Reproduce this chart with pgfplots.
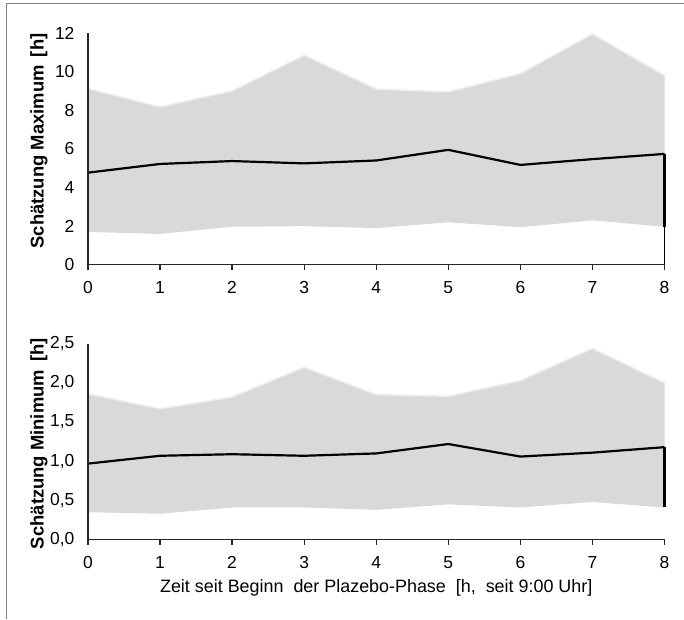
\documentclass[border=0pt]{standalone}
\usepackage{fontspec}
\setmainfont{Liberation Sans}
\usepackage{pgfplots}
\usepackage{pgfplotstable}
\pgfplotsset{compat=1.18}
\usepgfplotslibrary{fillbetween}

\definecolor{bandgray}{HTML}{D9D9D9}
\definecolor{bandedge}{HTML}{EEEEEE}
\definecolor{framegray}{HTML}{808080}

% x  lower  mean  upper
\pgfplotstableread{
x lo mean hi
0 1.70 4.77 9.12
1 1.60 5.22 8.17
2 1.97 5.37 9.00
3 2.00 5.25 10.85
4 1.90 5.40 9.10
5 2.20 5.95 8.95
6 1.95 5.17 9.90
7 2.30 5.47 11.95
8 1.97 5.74 9.80
}\maxdata

\pgfplotstableread{
x lo mean hi
0 0.35 0.97 1.86
1 0.33 1.07 1.67
2 0.41 1.09 1.82
3 0.41 1.07 2.20
4 0.38 1.10 1.85
5 0.45 1.22 1.83
6 0.41 1.06 2.03
7 0.48 1.11 2.44
8 0.41 1.18 2.00
}\mindata

\pgfplotsset{
  panel/.style={
    scale only axis,
    width=577bp,
    xmin=0, xmax=8,
    ymin=0,
    xtick={0,...,8},
    axis x line=bottom,
    axis y line=left,
    axis line style={-, line width=1.2pt, black!85},
    x tick style={line width=1.2pt, black!85},
    y tick style={draw=none},
    tick align=outside,
    major tick length=5bp,
    ticklabel style={font=\fontsize{17.5}{21}\selectfont},
    yticklabel style={xshift=-5bp},
    xticklabel style={yshift=-8bp},
    /pgf/number format/assume math mode=true,
    ylabel style={font=\bfseries\fontsize{18.5}{21}\selectfont, anchor=south},
    clip=false,
    axis on top,
  },
}

\begin{document}
\begin{tikzpicture}
\path (0bp,0bp) rectangle (684bp,619bp);
\draw[framegray, line width=1pt] (7bp,0bp) -- (7bp,615bp) -- (684bp,615bp);

\begin{axis}[panel,
  at={(88bp,354bp)}, anchor=south west,
  height=232bp,
  ymax=12, ytick={0,2,...,12},
  ylabel={Schätzung Maximum \,[h]},
  ylabel style={at={(axis description cs:-0.064,0.534)}},
]
\addplot[name path=hi, draw=bandedge, line width=1.5pt] table[x=x, y=hi] {\maxdata};
\addplot[name path=lo, draw=none] table[x=x, y=lo] {\maxdata};
\addplot[fill=bandgray, draw=none] fill between[of=hi and lo];
\addplot[black, line width=0.7pt] coordinates {(8,0) (8,1.97)};
\addplot[black, line width=2.2pt] coordinates {(0,1.70) (0,4.77)};
\addplot[black, line width=2.2pt, line join=round] table[x=x, y=mean] {\maxdata};
\addplot[black, line width=2.2pt] coordinates {(8,5.74) (8,1.97)};
\end{axis}

\begin{axis}[panel,
  at={(88bp,79bp)}, anchor=south west,
  height=196bp,
  ymax=2.5, ytick={0,0.5,...,2.5},
  yticklabel style={/pgf/number format/.cd, fixed, fixed zerofill, precision=1, use comma},
  ylabel={Schätzung Minimum \,[h]},
  ylabel style={at={(axis description cs:-0.064,0.49)}},
  xlabel={Zeit seit Beginn \ der Plazebo-Phase \ [h, \ seit 9:00 Uhr]},
  xlabel style={font=\fontsize{18}{21}\selectfont, yshift=-4bp},
]
\addplot[name path=hi, draw=bandedge, line width=1.5pt] table[x=x, y=hi] {\mindata};
\addplot[name path=lo, draw=none] table[x=x, y=lo] {\mindata};
\addplot[fill=bandgray, draw=none] fill between[of=hi and lo];
\addplot[black, line width=2.2pt] coordinates {(0,0.35) (0,0.97)};
\addplot[black, line width=2.2pt, line join=round] table[x=x, y=mean] {\mindata};
\addplot[black, line width=2.2pt] coordinates {(8,1.18) (8,0.41)};
\end{axis}
\end{tikzpicture}
\end{document}
